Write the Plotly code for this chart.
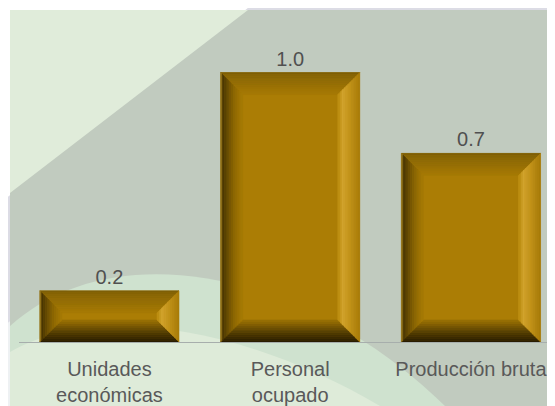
import plotly.graph_objects as go

# ---- data ----
categories = ["Unidades<br>económicas", "Personal<br>ocupado", "Producción bruta"]
values = [0.19, 1.0, 0.70]
value_labels = ["0.2", "1.0", "0.7"]

# ---- layout geometry (pixels) ----
OFF = 8  # page body margin
W, H = 555 - OFF, 406 - OFF
ML, MR, MT, MB = 19 - OFF, 0, 10 - OFF, 64
PLOT_W = W - ML - MR
PLOT_H = H - MT - MB
X_RANGE = [-0.5, 2.465]
Y_RANGE = [0, 1.232]
PX_X = PLOT_W / (X_RANGE[1] - X_RANGE[0])
PX_Y = PLOT_H / (Y_RANGE[1] - Y_RANGE[0])
BAR_W = 0.77
BEVEL = 22  # px
FONT = "Liberation Sans, Arial, sans-serif"

FACE = "#ab7d05"
STOPS = {
    "top": [(0, "#7a5c08"), (0.12, "#876506"), (1, "#a67a05")],
    "bottom": [(0, "#241a01"), (0.5, "#5a4203"), (1, "#9c7205")],
    "left": [(0, "#c59d2a"), (0.1, "#493603"), (0.6, "#8a6504"), (1, "#a77b05")],
    "right": [(0, "#a67a08"), (0.5, "#c4951c"), (0.8, "#d2a42e"), (1, "#b88a0b")],
}


def hex2rgb(h):
    h = h.lstrip("#")
    return [int(h[i:i + 2], 16) for i in (0, 2, 4)]


def color_at(stops, t):
    for (t0, c0), (t1, c1) in zip(stops, stops[1:]):
        if t0 <= t <= t1:
            f = (t - t0) / (t1 - t0) if t1 > t0 else 0
            a, b = hex2rgb(c0), hex2rgb(c1)
            r = [round(a[j] + (b[j] - a[j]) * f) for j in range(3)]
            return "rgb(%d,%d,%d)" % tuple(r)
    return stops[-1][1]


def path(pts):
    return "M " + " L ".join(f"{x:.5f},{y:.5f}" for x, y in pts) + " Z"


def P(sx, sy):
    # screen pixel -> paper coords
    px, py = sx - OFF, sy - OFF
    return ((px - ML) / PLOT_W, (H - MB - py) / PLOT_H)


def ppath(pts):
    return path([P(*p) for p in pts])


def pcurve(start, c1, c2, end, tail):
    s = P(*start); a = P(*c1); b = P(*c2); e = P(*end)
    tl = " ".join(f"L {P(*p)[0]:.5f},{P(*p)[1]:.5f}" for p in tail)
    return (f"M {s[0]:.5f},{s[1]:.5f} C {a[0]:.5f},{a[1]:.5f} {b[0]:.5f},{b[1]:.5f} "
            f"{e[0]:.5f},{e[1]:.5f} {tl} Z")


SW, SH = 555, 406
shapes = []
# ---- background decoration ----
bg = [
    (ppath([(258, 0), (SW, 0), (SW, SH), (0, SH), (0, 203)]), "#dcdce5"),
    (pcurve((0, 330), (100, 235), (300, 262), (450, SH), [(0, SH)]), "#eef1f3"),
    (ppath([(10, 10), (SW, 10), (SW, SH), (10, SH)]), "#c1cbbf"),
    (ppath([(10, 10), (248, 10), (10, 193)]), "#e0ecda"),
    (pcurve((10, 326), (110, 235), (300, 265), (445, SH), [(10, SH)]), "#cfe2cf"),
    (pcurve((10, 352), (100, 300), (250, 330), (380, SH), [(10, SH)]), "#deebd9"),
]
for pth, col in bg:
    shapes.append(dict(type="path", path=pth, xref="paper", yref="paper",
                       fillcolor=col, line=dict(width=0), layer="below"))

# ---- bevels (computed from data) ----
N = 12
for i, v in enumerate(values):
    x0, x1 = i - BAR_W / 2, i + BAR_W / 2
    y0, y1 = 0.0, v
    dx = BEVEL / PX_X
    dy = min(BEVEL / PX_Y, v / 2 * 0.95)
    for k in range(N):
        t0, t1 = k / N, (k + 1) / N
        tm = (t0 + t1) / 2
        sides = {
            "top": [(x0 + t0 * dx, y1 - t0 * dy), (x1 - t0 * dx, y1 - t0 * dy),
                    (x1 - t1 * dx, y1 - t1 * dy), (x0 + t1 * dx, y1 - t1 * dy)],
            "bottom": [(x0 + t0 * dx, y0 + t0 * dy), (x1 - t0 * dx, y0 + t0 * dy),
                       (x1 - t1 * dx, y0 + t1 * dy), (x0 + t1 * dx, y0 + t1 * dy)],
            "left": [(x0 + t0 * dx, y0 + t0 * dy), (x0 + t0 * dx, y1 - t0 * dy),
                     (x0 + t1 * dx, y1 - t1 * dy), (x0 + t1 * dx, y0 + t1 * dy)],
            "right": [(x1 - t0 * dx, y0 + t0 * dy), (x1 - t0 * dx, y1 - t0 * dy),
                      (x1 - t1 * dx, y1 - t1 * dy), (x1 - t1 * dx, y0 + t1 * dy)],
        }
        for side, pts in sides.items():
            c = color_at(STOPS[side], tm)
            shapes.append(dict(type="path", path=path(pts), xref="x", yref="y",
                               fillcolor=c, line=dict(width=0.6, color=c), layer="above"))

fig = go.Figure(go.Bar(
    x=list(range(len(categories))), y=values, width=BAR_W,
    marker=dict(color=FACE, line=dict(width=0)),
    text=value_labels, textposition="outside",
    textfont=dict(family=FONT, size=20, color="#505050"),
    cliponaxis=False, hoverinfo="skip",
))

fig.update_layout(
    width=W, height=H, autosize=False,
    margin=dict(l=ML, r=MR, t=MT, b=MB, pad=0),
    paper_bgcolor="white", plot_bgcolor="rgba(0,0,0,0)",
    showlegend=False, shapes=shapes,
    font=dict(family=FONT),
    xaxis=dict(range=X_RANGE, tickvals=list(range(len(categories))), ticktext=categories,
               tickfont=dict(family=FONT, size=20, color="#595959"),
               ticklabelstandoff=9,
               showline=True, linecolor="#a7aeac", linewidth=1, ticks="",
               showgrid=False, zeroline=False, fixedrange=True),
    yaxis=dict(range=Y_RANGE, visible=False, showgrid=False, zeroline=False, fixedrange=True),
)

fig.write_html("out.html")
